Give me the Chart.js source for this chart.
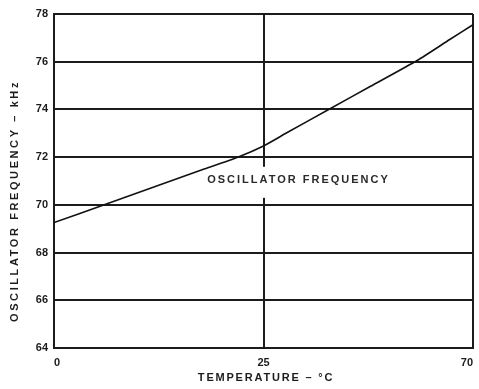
<!DOCTYPE html>
<html>
<head>
<meta charset="utf-8">
<script src="https://cdn.jsdelivr.net/npm/chart.js@4/dist/chart.umd.min.js"></script>
<style>
  html, body { margin: 0; padding: 0; background: #fff; }
  #wrap { width: 479px; height: 389px; }
</style>
</head>
<body>
<div id="wrap"><canvas id="osc-chart" width="479" height="389"></canvas></div>
<script>
// temperature axis is drawn in two equal-width spans: 0..25 and 25..70
const tempTicks = [0, 25, 70];
const freqTicks = [64, 66, 68, 70, 72, 74, 76, 78];

const temps = [0, 6, 12, 18, 22, 25, 30, 39, 48, 58, 65, 70];
const freqs = [69.26, 70.0, 70.76, 71.51, 72.01, 72.47, 73.02, 74.0, 74.97, 76.05, 76.93, 77.55];

const curveLabel = 'OSCILLATOR FREQUENCY';
const xTitle = 'TEMPERATURE – °C';
const yTitle = 'OSCILLATOR FREQUENCY – kHz';

const FONT = '"Liberation Sans", Arial, sans-serif';
const INK = '#1c1c1c';

// map a temperature to its position on the piecewise axis (one unit per span)
function tempToPos(t) {
    for (let i = 1; i < tempTicks.length; i++) {
        if (t <= tempTicks[i]) {
            const a = tempTicks[i - 1], b = tempTicks[i];
            return (i - 1) + (t - a) / (b - a);
        }
    }
    return tempTicks.length - 1;
}

const points = temps.map((t, i) => ({ x: tempToPos(t), y: freqs[i] }));

// axis titles and the in-plot curve label
const textPlugin = {
    id: 'textLabels',
    beforeDatasetsDraw(chart) {
        const { ctx, scales } = chart;
        const cx = scales.x.getPixelForValue(tempToPos(32.3));
        const cy = scales.y.getPixelForValue(71.05);
        ctx.save();
        ctx.font = 'bold 11px ' + FONT;
        ctx.letterSpacing = '2px';
        const w = ctx.measureText(curveLabel).width;
        ctx.fillStyle = '#fff';
        ctx.fillRect(cx - w / 2 - 3, cy - 13, w + 6, 31);
        ctx.fillStyle = '#2a2a2a';
        ctx.textAlign = 'center';
        ctx.textBaseline = 'middle';
        ctx.fillText(curveLabel, cx + 1, cy);
        ctx.restore();
    },
    afterDraw(chart) {
        const { ctx } = chart;
        ctx.save();
        ctx.font = 'bold 11px ' + FONT;
        ctx.fillStyle = INK;
        ctx.textAlign = 'center';
        ctx.textBaseline = 'middle';
        ctx.letterSpacing = '1.8px';
        ctx.fillText(xTitle, 266, 378);
        ctx.translate(15, 201);
        ctx.rotate(-Math.PI / 2);
        ctx.letterSpacing = '2.6px';
        ctx.fillText(yTitle, 0, 0);
        ctx.restore();
    }
};

new Chart(document.getElementById('osc-chart'), {
    type: 'line',
    data: {
        datasets: [{
            data: points,
            borderColor: '#111',
            borderWidth: 1.6,
            pointRadius: 0,
            tension: 0.2,
            fill: false
        }]
    },
    options: {
        responsive: false,
        animation: false,
        layout: { padding: { top: 14, right: 6, left: 0, bottom: 0 } },
        plugins: { legend: { display: false }, tooltip: { enabled: false } },
        scales: {
            x: {
                type: 'linear',
                min: 0,
                max: tempTicks.length - 1,
                afterBuildTicks(axis) {
                    axis.ticks = tempTicks.map((t, i) => ({ value: i }));
                },
                afterFit(axis) {
                    axis.height = 41;
                    axis.paddingLeft = 0;
                    axis.paddingRight = 0;
                },
                ticks: {
                    color: INK,
                    font: { family: FONT, size: 11, weight: 'bold' },
                    padding: 8,
                    align: 'inner',
                    maxRotation: 0,
                    callback: (v, i) => String(tempTicks[i])
                },
                grid: { color: INK, lineWidth: 2, drawTicks: false },
                border: { color: INK, width: 2 }
            },
            y: {
                min: 64,
                max: 78,
                afterBuildTicks(axis) {
                    axis.ticks = freqTicks.map(v => ({ value: v }));
                },
                afterFit(axis) {
                    axis.width = 54;
                    axis.paddingTop = 0;
                    axis.paddingBottom = 0;
                },
                ticks: {
                    color: INK,
                    font: { family: FONT, size: 11, weight: 'bold' },
                    padding: 6
                },
                grid: { color: INK, lineWidth: 2, drawTicks: false },
                border: { color: INK, width: 2 }
            }
        }
    },
    plugins: [textPlugin]
});
</script>
</body>
</html>
